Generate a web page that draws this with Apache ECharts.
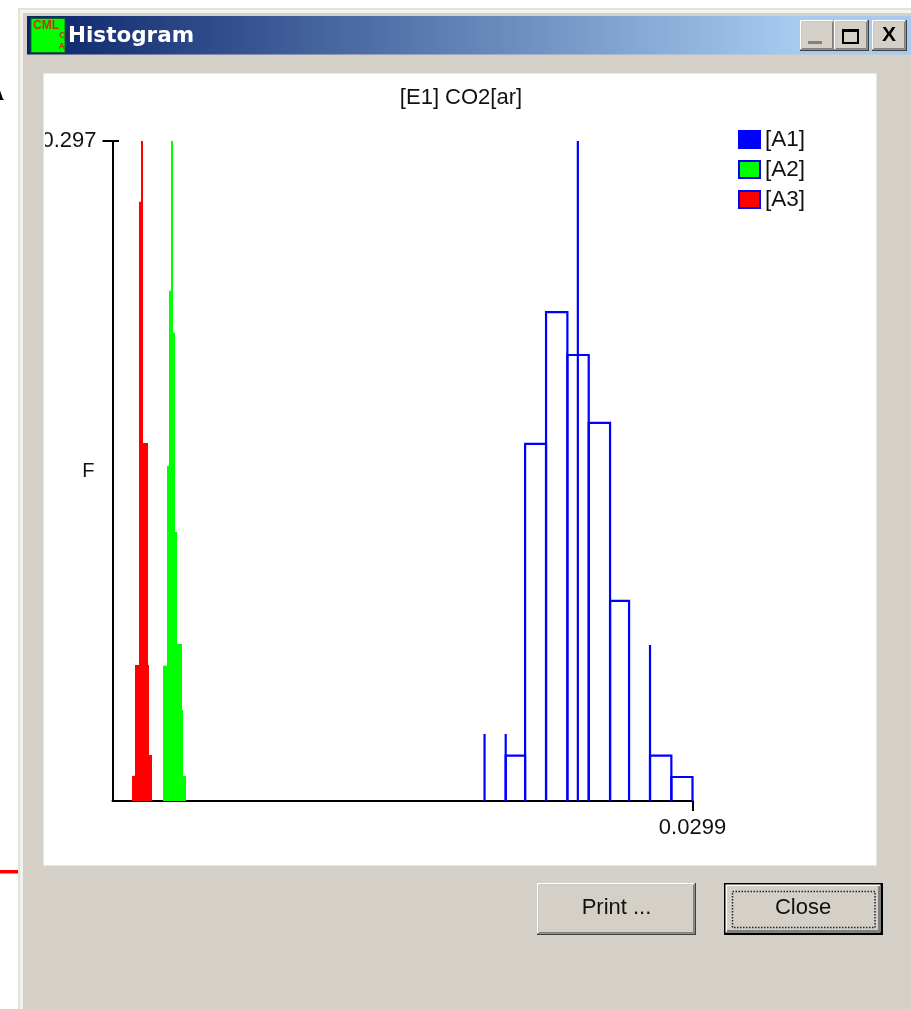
<!DOCTYPE html>
<html>
<head>
<meta charset="utf-8">
<style>html,body{margin:0;padding:0;background:#fff}#c{width:911px;height:1009px}</style>
<script src="https://cdn.jsdelivr.net/npm/echarts@6/dist/echarts.min.js"></script>
</head>
<body>
<div id="c"></div>
<script>
// ---- data ----
var chartTitle = '[E1] CO2[ar]';
var yName = 'F';
var xTickLabels = [0.0299];
var yTickLabels = [0.297];
var seriesNames = ['[A1]', '[A2]', '[A3]'];

var a1Start  = [0.01918, 0.02027, 0.02027, 0.02127, 0.02235, 0.02345, 0.02399, 0.02455, 0.02565, 0.02771, 0.02771, 0.02881];
var a1End    = [0.01918, 0.02027, 0.02127, 0.02235, 0.02345, 0.02455, 0.02399, 0.02565, 0.02663, 0.02771, 0.02881, 0.0299];
var a1Height = [0.0302, 0.0302, 0.0204, 0.1607, 0.2200, 0.2007, 0.297, 0.1702, 0.0901, 0.0702, 0.0204, 0.0108];

var a2Start  = [0.00258, 0.00281, 0.00291, 0.00300, 0.00313, 0.00322, 0.00334, 0.00356, 0.00365];
var a2End    = [0.00281, 0.00291, 0.00300, 0.00313, 0.00322, 0.00334, 0.00356, 0.00365, 0.00379];
var a2Height = [0.0609, 0.1507, 0.2296, 0.297, 0.2107, 0.1211, 0.0707, 0.0410, 0.0113];

var a3Start  = [0.00102, 0.00116, 0.00137, 0.00147, 0.00159, 0.00181, 0.00190];
var a3End    = [0.00116, 0.00137, 0.00147, 0.00159, 0.00181, 0.00190, 0.00202];
var a3Height = [0.0113, 0.0612, 0.2697, 0.297, 0.1611, 0.0612, 0.0207];

function rows(s, e, h) { return s.map(function (v, i) { return [v, e[i], h[i]]; }); }

// ---- window chrome ----
var FACE = '#d4d0c8';
var chrome = [];
function rect(x, y, w, h, fill, z, stroke, lw, dash) {
  chrome.push({ type: 'rect', silent: true, z: z || 1,
    shape: { x: x, y: y, width: w, height: h },
    style: { fill: fill, stroke: stroke || null, lineWidth: lw || 0, lineDash: dash || null } });
}
function label(t, x, y, font, color, align, z) {
  chrome.push({ type: 'text', silent: true, z: z || 2, x: x, y: y,
    style: { text: t, font: font, fill: color, textAlign: align || 'left', textVerticalAlign: 'middle' } });
}
function button3d(x, y, w, h) {
  rect(x, y, w, h, '#404040');
  rect(x, y, w - 1.5, h - 1.5, '#ffffff');
  rect(x + 1.5, y + 1.5, w - 3, h - 3, '#808080');
  rect(x + 1.5, y + 1.5, w - 4.5, h - 4.5, FACE);
}

rect(18, 8, 893, 1001, '#e4e1da');
rect(20, 10, 891, 999, '#f4f2ee');
rect(23, 13, 888, 996, FACE);
chrome.push({ type: 'rect', silent: true, z: 1, shape: { x: 27, y: 16, width: 884, height: 38.5 },
  style: { fill: new echarts.graphic.LinearGradient(0, 0, 1, 0, [
    { offset: 0, color: '#0a246a' }, { offset: 0.87, color: '#a6caf0' }, { offset: 1, color: '#a6caf0' }]) } });

// icon
rect(31, 18.5, 34, 34, '#00ff00', 2, '#0c6a20', 1);
label('CML', 33, 26, 'bold 12px "Liberation Sans"', '#b83a10', 'left', 3);
label('C', 59, 36, 'bold 9px "Liberation Sans"', '#b83a10', 'left', 3);
label('A', 58.5, 47, 'bold 9px "Liberation Sans"', '#b83a10', 'left', 3);
label('Histogram', 68, 36, 'bold 21.5px "DejaVu Sans"', '#ffffff');

// window buttons
button3d(800, 20, 35, 31);
button3d(834, 20, 35, 31);
button3d(872, 20, 35, 31);
rect(808, 41, 14, 3, '#808080', 2);
rect(843, 30, 15, 13, 'rgba(0,0,0,0)', 2, '#000', 2);
rect(842, 29, 17, 3, '#000', 2);
label('X', 889, 35.5, 'bold 21px "Liberation Sans"', '#000', 'center', 3);

// client area
rect(43.5, 73.5, 833, 792, '#ffffff');

// bottom buttons
button3d(537, 883, 159, 52);
label('Print ...', 616.5, 908, '22px "Liberation Sans"', '#111', 'center');
rect(724, 883, 159, 52, '#000');
rect(725.5, 884.5, 155, 48, '#ffffff', 1);
rect(727, 886, 153, 46, '#808080', 1);
rect(727, 886, 151, 44, FACE, 1);
rect(732.5, 891.5, 142.5, 36, 'rgba(0,0,0,0)', 2, '#222', 1.5, [1.5, 1.5]);
label('Close', 803, 908, '22px "Liberation Sans"', '#111', 'center');

// outside fragments
rect(0, 870, 18, 3.5, '#ff0000');
label('A', -9, 95, 'bold 18px "Liberation Serif"', '#000');

// mask that clips the y label at the client-area edge
rect(23, 128, 21.5, 24, FACE, 20);
rect(43.5, 128, 1.5, 24, '#ffffff', 20);

// ---- chart ----
var GRID_Z = 5;
var FONT = '"Liberation Sans"';

function outlined(params, api) {
  var a = api.coord([api.value(0), 0]);
  var b = api.coord([api.value(0), api.value(2)]);
  var c = api.coord([api.value(1), api.value(2)]);
  var d = api.coord([api.value(1), 0]);
  return { type: 'polyline', shape: { points: [a, b, c, d] },
    style: { stroke: '#0000ff', lineWidth: 2.2, fill: null }, silent: true };
}
function filled(color) {
  return function (params, api) {
    var a = api.coord([api.value(0), 0]);
    var c = api.coord([api.value(1), api.value(2)]);
    var x0 = Math.round(a[0]), x1 = Math.round(c[0]);
    return { type: 'rect', shape: { x: x0, y: c[1], width: x1 - x0, height: a[1] - c[1] },
      style: { fill: color, stroke: null }, silent: true };
  };
}
function innerTick(params, api) {
  var p = api.coord([0, api.value(1)]);
  return { type: 'line', shape: { x1: p[0], y1: p[1], x2: p[0] + 6.5, y2: p[1] },
    style: { stroke: '#000', lineWidth: 2 }, silent: true };
}

var option = {
  animation: false,
  backgroundColor: '#ffffff',
  graphic: { elements: chrome },
  title: {
    text: chartTitle, left: 456, top: 82, textAlign: 'center', z: GRID_Z,
    textStyle: { fontFamily: FONT, fontSize: 22, fontWeight: 'normal', color: '#111' }
  },
  legend: {
    orient: 'vertical', left: 738, top: 128, itemWidth: 21, itemHeight: 17, itemGap: 7,
    icon: 'rect', selectedMode: false, z: GRID_Z, padding: 0,
    data: seriesNames,
    textStyle: { fontFamily: FONT, fontSize: 22.5, color: '#111', lineHeight: 18, padding: [0, 0, 0, 0] }
  },
  grid: { left: 112.5, top: 141, width: 580, height: 660, containLabel: false, z: GRID_Z },
  xAxis: {
    type: 'value', min: 0, max: xTickLabels[0], z: GRID_Z,
    axisLine: { show: true, onZero: false, lineStyle: { color: '#000', width: 2 } },
    axisTick: { show: true, length: 10, customValues: xTickLabels, lineStyle: { color: '#000', width: 2 } },
    axisLabel: { show: true, customValues: xTickLabels, margin: 16, fontFamily: FONT, fontSize: 22, color: '#111',
      showMinLabel: true, showMaxLabel: true, hideOverlap: false, formatter: function (v) { return String(v); } },
    splitLine: { show: false }
  },
  yAxis: {
    type: 'value', min: 0, max: yTickLabels[0], z: GRID_Z,
    name: yName, nameLocation: 'middle', nameGap: 18, nameRotate: 0, nameMoveOverlap: false,
    nameTextStyle: { fontFamily: FONT, fontSize: 20, color: '#111', padding: [12, 0, 0, 0] },
    axisLine: { show: true, onZero: false, lineStyle: { color: '#000', width: 2 } },
    axisTick: { show: true, length: 10, customValues: yTickLabels, lineStyle: { color: '#000', width: 2 } },
    axisLabel: { show: true, customValues: yTickLabels, margin: 16, fontFamily: FONT, fontSize: 22, color: '#111',
      showMinLabel: true, showMaxLabel: true, hideOverlap: false, formatter: function (v) { return String(v); } },
    splitLine: { show: false }
  },
  series: [
    { name: seriesNames[0], type: 'custom', z: GRID_Z + 1, clip: false, renderItem: outlined,
      itemStyle: { color: '#0000ff', borderColor: '#0000ff', borderWidth: 2 },
      encode: { x: [0, 1], y: 2 }, data: rows(a1Start, a1End, a1Height) },
    { name: seriesNames[1], type: 'custom', z: GRID_Z + 1, clip: false, renderItem: filled('#00ff00'),
      itemStyle: { color: '#00ff00', borderColor: '#0000ff', borderWidth: 2 },
      encode: { x: [0, 1], y: 2 }, data: rows(a2Start, a2End, a2Height) },
    { name: seriesNames[2], type: 'custom', z: GRID_Z + 1, clip: false, renderItem: filled('#ff0000'),
      itemStyle: { color: '#ff0000', borderColor: '#0000ff', borderWidth: 2 },
      encode: { x: [0, 1], y: 2 }, data: rows(a3Start, a3End, a3Height) },
    { name: 'yTick', type: 'custom', z: GRID_Z, clip: false, renderItem: innerTick,
      encode: { x: 0, y: 1 }, data: [[0, yTickLabels[0]]] }
  ]
};
var chart = echarts.init(document.getElementById('c'), null, { renderer: 'canvas', width: 911, height: 1009 });
chart.setOption(option);
</script>
</body>
</html>
